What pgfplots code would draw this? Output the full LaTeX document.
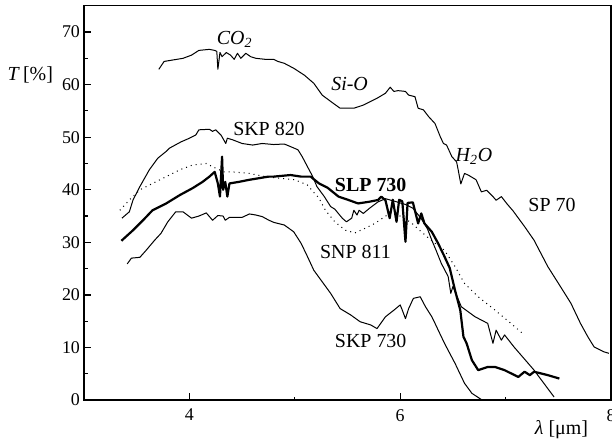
\documentclass[border=0pt]{standalone}
\usepackage{pgfplots}
\pgfplotsset{compat=1.18}
\usepackage{fontspec}
\setmainfont{Liberation Serif}
\begin{document}
\begin{tikzpicture}
\begin{axis}[
  name=ax,
  scale only axis,
  width=263.5bp, height=197.2bp,
  xmin=3, xmax=8, ymin=0, ymax=75,
  xtick={4,6,8},
  minor xtick={5,7},
  ytick={0,10,...,70},
  minor ytick={5,15,...,65},
  tick pos=left,
  tick align=inside,
  major tick length=3.4bp,
  minor tick length=1.8bp,
  x tick style={black, line width=0.6bp},
  y tick style={black, line width=0.6bp},
  axis line style={line width=0.6bp},
  /pgf/number format/assume math mode=true,
  tick label style={font=\fontsize{9}{10}\selectfont},
  xticklabel style={yshift=-1bp},
  yticklabel style={xshift=1.5bp},
  xlabel={\textit{λ} [μm]},
  ylabel={\textit{T}\,[\%]},
  label style={font=\fontsize{10}{12}\selectfont},
  xlabel style={at={(axis description cs:0.906,-0.076)}, anchor=center},
  ylabel style={rotate=-90, at={(axis description cs:-0.102,0.824)}, anchor=center},
  thin curve/.style={black, no markers, solid, line width=0.5bp, line join=round},
]
% SP 70
\addplot[thin curve] coordinates {
(3.71,62.9)(3.76,64.4)(3.85,64.7)(3.94,65.0)(4.02,65.6)(4.09,66.5)(4.19,66.7)(4.24,66.5)(4.26,66.3)(4.27,62.9)(4.29,66.1)(4.31,65.3)(4.35,66.1)(4.39,65.6)(4.425,64.8)(4.456,65.95)(4.488,65.0)(4.535,65.95)(4.582,65.3)(4.63,65.0)(4.72,64.8)(4.80,64.8)(4.84,64.4)(4.90,64.05)(4.99,63.1)(5.09,61.8)(5.18,60.25)(5.26,58.0)(5.34,56.8)(5.43,55.5)(5.56,55.5)(5.65,56.1)(5.78,57.4)(5.86,58.35)(5.905,59.5)(5.94,58.7)(5.98,58.85)(6.05,58.7)(6.08,58.0)(6.14,57.7)(6.17,55.5)(6.22,55.2)(6.27,53.9)(6.33,52.6)(6.38,50.1)(6.41,48.8)(6.44,48.5)(6.49,46.3)(6.535,45.3)(6.55,43.8)(6.575,41.1)(6.61,43.1)(6.645,42.8)(6.72,41.9)(6.77,39.6)(6.82,39.9)(6.88,38.7)(6.91,38.0)(6.96,38.7)(7.01,37.4)(7.07,36.0)(7.18,33.0)(7.27,30.4)(7.40,25.4)(7.52,21.6)(7.62,18.4)(7.71,14.6)(7.78,12.05)(7.84,10.1)(7.93,9.2)(7.98,8.9)
};
% SKP 820
\addplot[thin curve] coordinates {
(3.36,34.6)(3.43,35.8)(3.465,38.05)(3.53,40.6)(3.62,43.8)(3.70,46.0)(3.78,47.3)(3.81,47.9)(3.92,49.1)(4.00,49.8)(4.06,50.4)(4.09,51.4)(4.19,51.5)(4.22,51.1)(4.25,51.4)(4.30,50.4)(4.345,48.8)(4.36,49.8)(4.41,49.5)(4.50,48.8)(4.60,48.5)(4.69,48.8)(4.80,48.6)(4.90,48.7)(4.96,48.2)(5.03,47.6)(5.07,46.3)(5.12,44.4)(5.17,42.5)(5.21,40.6)(5.28,38.7)(5.34,36.8)(5.38,36.3)(5.45,34.6)(5.49,33.9)(5.54,34.6)(5.56,36.1)(5.59,35.2)(5.61,36.1)(5.65,35.5)(5.71,36.5)(5.79,37.7)(5.86,38.3)(5.95,37.8)(6.05,37.2)(6.12,36.5)(6.20,34.5)(6.26,32.5)(6.30,30.4)(6.34,28.5)(6.39,26.0)(6.455,23.5)(6.48,20.3)(6.50,21.6)(6.58,17.75)(6.71,15.85)(6.83,14.6)(6.88,10.8)(6.91,13.3)(6.96,11.4)(6.99,12.4)(7.08,10.1)(7.27,5.7)(7.40,2.2)(7.46,0.6)
};
% SLP 730
\addplot[thin curve, line width=1.1bp] coordinates {
(3.355,30.3)(3.465,32.3)(3.56,34.2)(3.65,36.1)(3.78,37.4)(3.91,39.0)(4.03,40.3)(4.125,41.5)(4.19,42.5)(4.24,43.4)(4.27,41.2)(4.29,38.7)(4.31,46.3)(4.32,40.0)(4.34,41.5)(4.36,38.7)(4.38,41.2)(4.47,41.5)(4.57,41.9)(4.66,42.2)(4.75,42.5)(4.80,42.5)(4.96,42.8)(5.06,42.5)(5.15,42.5)(5.23,41.2)(5.31,40.4)(5.415,38.7)(5.51,38.05)(5.60,37.4)(5.70,37.7)(5.79,38.05)(5.82,38.7)(5.86,38.0)(5.90,34.6)(5.93,38.1)(5.965,33.9)(5.99,38.1)(6.02,37.8)(6.05,30.1)(6.07,37.5)(6.12,37.6)(6.17,33.6)(6.20,35.5)(6.23,33.6)(6.30,32.0)(6.36,29.8)(6.42,27.3)(6.47,25.1)(6.52,20.9)(6.57,17.1)(6.60,12.05)(6.63,10.8)(6.68,7.6)(6.74,5.7)(6.83,6.3)(6.90,6.3)(6.99,5.7)(7.12,4.4)(7.18,5.4)(7.23,4.75)(7.27,5.4)(7.40,4.75)(7.51,4.1)
};
% SNP 811
\addplot[thin curve, dash pattern=on 0.5bp off 2bp] coordinates {
(3.34,36.1)(3.43,38.05)(3.53,40.0)(3.65,41.2)(3.78,42.5)(3.91,43.8)(4.03,44.7)(4.16,45.0)(4.25,44.1)(4.33,43.4)(4.41,43.4)(4.57,43.1)(4.72,42.5)(4.85,42.2)(5.00,41.9)(5.12,40.9)(5.18,39.5)(5.23,38.4)(5.29,36.1)(5.38,33.9)(5.48,32.3)(5.57,31.8)(5.67,32.7)(5.76,33.6)(5.855,34.9)(5.90,35.5)(6.00,35.0)(6.10,33.8)(6.20,32.0)(6.30,30.3)(6.42,28.5)(6.52,25.4)(6.61,22.2)(6.74,19.65)(6.90,17.1)(7.05,14.6)(7.16,12.7)
};
% SKP 730
\addplot[thin curve] coordinates {
(3.41,25.9)(3.45,27.0)(3.53,27.15)(3.59,28.5)(3.67,30.4)(3.73,31.7)(3.795,33.9)(3.87,35.8)(3.94,35.8)(4.02,34.6)(4.09,35.0)(4.16,35.6)(4.22,34.2)(4.27,35.1)(4.32,35.0)(4.34,34.2)(4.38,34.75)(4.50,34.75)(4.57,35.4)(4.63,35.2)(4.69,34.9)(4.755,34.2)(4.80,33.8)(4.90,33.3)(4.99,32.0)(5.06,29.8)(5.12,27.3)(5.18,24.7)(5.26,22.5)(5.34,20.3)(5.43,17.4)(5.53,16.2)(5.62,14.9)(5.72,14.3)(5.78,13.6)(5.86,15.85)(5.94,17.1)(6.00,18.1)(6.02,17.1)(6.05,15.5)(6.08,17.4)(6.125,19.35)(6.19,19.65)(6.24,17.75)(6.30,15.85)(6.33,14.6)(6.42,10.8)(6.52,7.0)(6.61,3.2)(6.68,1.3)(6.77,0.1)
};
\begin{scope}[font=\fontsize{10}{12}\selectfont]
\node at (axis cs:4.43,68.5) {\textit{CO\textsubscript{2}}};
\node at (axis cs:5.52,60.1) {\textit{Si-O}};
\node at (axis cs:6.70,46.4) {\textit{H\textsubscript{2}O}};
\node at (axis cs:7.44,37.1) {SP 70};
\node at (axis cs:4.755,51.5) {SKP 820};
\node at (axis cs:5.72,40.9) {\textbf{SLP 730}};
\node at (axis cs:5.575,28.2) {SNP 811};
\node at (axis cs:5.72,11.3) {SKP 730};
\end{scope}
\draw[line width=1bp] (rel axis cs:0,1) -- (rel axis cs:0,0) -- (rel axis cs:1,0);
\coordinate (SW) at (rel axis cs:0,0);
\coordinate (NE) at (rel axis cs:1,1);
\end{axis}
\pgfresetboundingbox
\path ([xshift=-42bp,yshift=-21.5bp]SW) rectangle ([xshift=0.5bp,yshift=2.85bp]NE);
\end{tikzpicture}
\end{document}
